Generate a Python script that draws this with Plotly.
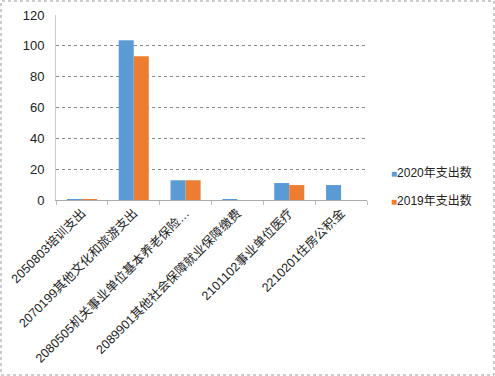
import plotly.graph_objects as go

categories = [
    "2050803培训支出",
    "2070199其他文化和旅游支出",
    "2080505机关事业单位基本养老保险…",
    "2089901其他社会保障就业保障缴费",
    "2101102事业单位医疗",
    "2210201住房公积金",
]
values_2020 = [0.6, 103.7, 12.8, 0.5, 11.0, 9.7]
values_2019 = [0.6, 93.3, 12.8, 0.0, 9.7, 0.0]
series_names = ["2020年支出数", "2019年支出数"]
series_colors = ["#5B9BD5", "#ED7D31"]
y_ticks = [0, 20, 40, 60, 80, 100, 120]

font_family = "Liberation Sans, Noto Sans CJK SC, sans-serif"

fig = go.Figure()
for vals, name, col in zip([values_2020, values_2019], series_names, series_colors):
    fig.add_trace(go.Bar(x=categories, y=vals, name=name,
                         marker=dict(color=col, line=dict(width=0))))

# legend drawn as annotations (small square + label), like the original
legend_ann = []
for i, (name, col) in enumerate(zip(series_names, series_colors)):
    legend_ann.append(dict(
        xref="paper", yref="paper", x=1.071, y=0.146 - i * 0.151,
        xanchor="left", yanchor="middle", showarrow=False,
        text=f"<span style='color:{col};font-size:10px'>■</span>{name}",
        font=dict(size=12, family=font_family, color="#222"),
    ))

fig.update_layout(
    width=495, height=376, autosize=False,
    margin=dict(l=56, r=128, t=15, b=176),
    paper_bgcolor="white", plot_bgcolor="white",
    barmode="group", bargap=0.42, bargroupgap=0,
    font=dict(family=font_family, size=12, color="#222"),
    showlegend=False,
    annotations=legend_ann,
    shapes=[dict(type="rect", xref="paper", yref="paper",
                 x0=-55/311, x1=438/311, y0=-175/185, y1=199/185,
                 line=dict(color="#999", width=1, dash="dot"))],
)
fig.update_xaxes(
    tickangle=-45, ticks="outside", tickson="boundaries", ticklen=4,
    tickcolor="#bbb", showline=True, linecolor="#aaa", linewidth=1,
    showgrid=False, tickfont=dict(size=12.5, color="#222"), automargin=False,
)
fig.update_yaxes(
    range=[0, 120], tickvals=y_ticks, showgrid=True, gridcolor="#888",
    griddash="dot", gridwidth=1, showline=True, linecolor="#ccc",
    zeroline=False, tickfont=dict(size=13, color="#222"), ticks="",
    ticklabelstandoff=8, automargin=False,
)
fig.write_html("out.html", config={"displayModeBar": False, "responsive": False},
               post_script="document.body.style.margin='0';document.body.style.overflow='hidden';")
